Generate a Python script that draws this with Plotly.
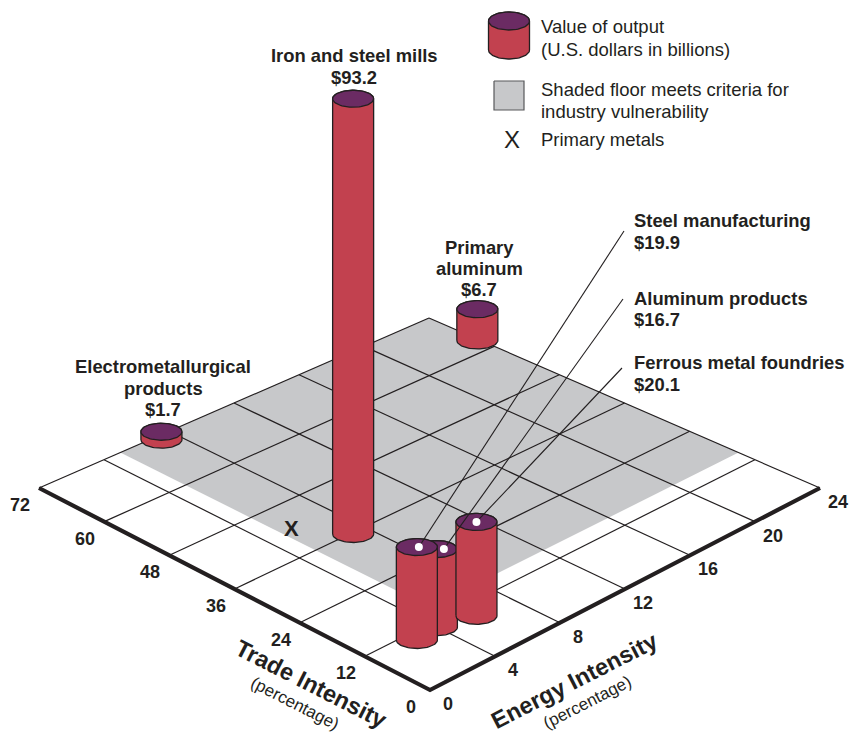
import numpy as np
import plotly.graph_objects as go

# ---- data ----
industries = ["Iron and steel mills", "Electrometallurgical products", "Primary aluminum",
              "Aluminum products", "Ferrous metal foundries", "Steel manufacturing"]
output_value = [93.2, 1.7, 6.7, 16.7, 20.1, 19.9]
trade_intensity = [35.7, 71.0, 62.8, 10.7, 9.1, 10.2]
energy_intensity = [7.2, 7.2, 23.9, 4.0, 5.9, 2.6]
trade_ticks = [0, 12, 24, 36, 48, 60, 72]
energy_ticks = [0, 4, 8, 12, 16, 20, 24]
shade_trade_min = 15
shade_energy_min = 5
primary_metals_trade = 42.3
primary_metals_energy = 5.6

# ---- page geometry ----
W, H = 849, 734
INK = "#231F20"
RED = "#C2414F"
PURPLE = "#6B2B63"
GRAY = "#C7C8CA"
FONT = "Liberation Sans"
RX, RY = 20.5, 8.5
PX_PER_BILLION = 4.67
TMAX, EMAX = 72.0, 24.0


def floor(t, e):
    """Floor projection: trade/energy percentages to page position."""
    u, v = np.asarray(t, float) / TMAX, np.asarray(e, float) / EMAX
    return 430 - 391 * u + 390 * v, 690 - 202 * u - 202 * v + 32 * u * v


fig = go.Figure()


def poly(x, y, fill=None, line=INK, lw=1.2):
    fig.add_trace(go.Scatter(
        x=list(x), y=list(y), mode="lines" if lw else "none",
        fill="toself" if fill else "none", fillcolor=fill,
        line=dict(color=line, width=lw or 0), hoverinfo="skip", showlegend=False))


def cylinder(cx, base_y, height, rx=RX, ry=RY, lw=1.3):
    top_y = base_y - height
    a = np.linspace(0, np.pi, 40)
    xs = np.concatenate([cx - rx * np.cos(a), cx + rx * np.cos(a)])
    ys = np.concatenate([base_y + ry * np.sin(a), top_y - ry * np.sin(a)])
    poly(np.append(xs, xs[0]), np.append(ys, ys[0]), fill=RED, lw=lw)
    b = np.linspace(0, 2 * np.pi, 80)
    poly(cx + rx * np.cos(b), top_y + ry * np.sin(b), fill=PURPLE, lw=lw)


def text(x, y, s, size=18.4, bold=False, anchor="center", angle=0):
    fig.add_annotation(x=x, y=y - 1, xref="x", yref="y", text=f"<b>{s}</b>" if bold else s,
                       showarrow=False, xanchor=anchor, yanchor="middle", textangle=angle,
                       borderpad=0, font=dict(family=FONT, size=size, color=INK))


# shaded floor
sx, sy = floor([shade_trade_min, TMAX, TMAX, shade_trade_min, shade_trade_min],
               [shade_energy_min, shade_energy_min, EMAX, EMAX, shade_energy_min])
poly(sx, sy, fill=GRAY, lw=0)

# grid
for t in trade_ticks[1:]:
    x, y = floor([t, t], [0, EMAX])
    poly(x, y)
for e in energy_ticks[1:]:
    x, y = floor([0, TMAX], [e, e])
    poly(x, y)

# heavy axes
x, y = floor([TMAX, 0, 0], [0, 0, EMAX])
poly(x, y, lw=4.2)

# tick labels
for t in trade_ticks:
    x, y = floor(t, 0)
    text(float(x) - 19, float(y) + 18, str(t), size=18, bold=True)
for e in energy_ticks:
    x, y = floor(0, e)
    text(float(x) + 18, float(y) + 15, str(e), size=18, bold=True)

# axis titles
text(311, 685, "Trade Intensity", size=23.5, bold=True, angle=27)
text(295, 704, "(percentage)", size=17, angle=27)
text(574, 682, "Energy Intensity", size=23.5, bold=True, angle=-27)
text(587, 703, "(percentage)", size=17, angle=-27)

# primary metals mark
x, y = floor(primary_metals_trade, primary_metals_energy)
text(float(x), float(y) + 1, "X", size=22, bold=True)

# cylinders
centres = {}
for name, val, t, e in zip(industries, output_value, trade_intensity, energy_intensity):
    x, y = floor(t, e)
    cylinder(float(x), float(y), val * PX_PER_BILLION)
    centres[name] = (float(x), float(y) - val * PX_PER_BILLION)

# leaders and dots
leader_ends = {"Steel manufacturing": (624, 231), "Aluminum products": (623, 299),
               "Ferrous metal foundries": (622, 368)}
dot_nudge = {"Steel manufacturing": (2, 0), "Aluminum products": (7, 0),
             "Ferrous metal foundries": (0, 0)}
for name, (ex, ey) in leader_ends.items():
    cx, cy = centres[name]
    dx, dy = dot_nudge[name]
    poly([cx + dx, ex], [cy + dy, ey], lw=1.1)
    fig.add_trace(go.Scatter(x=[cx + dx], y=[cy + dy], mode="markers",
                             marker=dict(color="white", size=8), hoverinfo="skip", showlegend=False))

# value labels
def money(name):
    return f"${output_value[industries.index(name)]:.1f}"


for lines, lx, ys in [
    (["Iron and steel mills", money("Iron and steel mills")], 354, (56, 78)),
    (["Electrometallurgical", "products", money("Electrometallurgical products")], 163, (367, 389, 410)),
    (["Primary", "aluminum", money("Primary aluminum")], 479, (248, 269, 290)),
]:
    for s, yy in zip(lines, ys):
        text(lx, yy, s, bold=True)
for name, ys in [("Steel manufacturing", (221, 243)), ("Aluminum products", (299, 320)),
                 ("Ferrous metal foundries", (363, 385))]:
    text(633, ys[0], name, bold=True, anchor="left")
    text(633, ys[1], money(name), bold=True, anchor="left")

# key
cylinder(509, 50, 29, rx=20.5, ry=9)
poly([494, 524, 524, 494, 494], [81, 81, 110, 110, 81], fill=GRAY, line="#58595B", lw=1.2)
text(512, 140, "X", size=24)
for s, yy in [("Value of output", 27), ("(U.S. dollars in billions)", 50),
              ("Shaded floor meets criteria for", 90), ("industry vulnerability", 112),
              ("Primary metals", 140)]:
    text(540, yy, s, size=18.5, anchor="left")

fig.update_layout(
    width=W, height=H, margin=dict(l=0, r=0, t=0, b=0),
    paper_bgcolor="white", plot_bgcolor="white", showlegend=False,
    xaxis=dict(range=[0, W], visible=False, fixedrange=True),
    yaxis=dict(range=[H, 0], visible=False, fixedrange=True),
)
fig.write_html("out.html", post_script="document.body.style.margin='0';", config={"displayModeBar": False})
